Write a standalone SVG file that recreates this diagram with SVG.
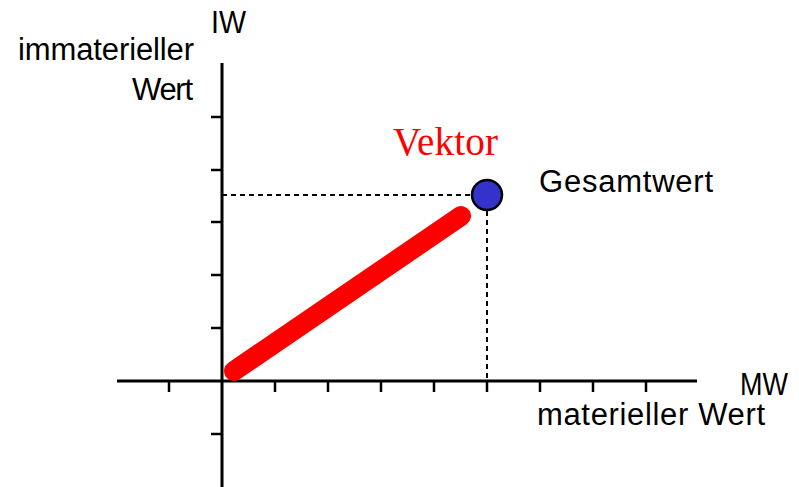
<svg xmlns="http://www.w3.org/2000/svg" width="799" height="487" viewBox="0 0 799 487">
<style>
.lbl{font-family:"Liberation Sans",Arial,sans-serif;font-size:31px;fill:#000}
.axis{stroke:#000;stroke-width:3;fill:none}
.tick{stroke:#000;stroke-width:2.5;fill:none}
.dash{stroke:#000;stroke-width:2;stroke-dasharray:5 4;fill:none}
</style>
<rect width="799" height="487" fill="#fff"/>
<g id="axes">
<line class="axis" x1="222" y1="63" x2="222" y2="487"/>
<line class="axis" x1="117" y1="381" x2="697" y2="381"/>
<path class="tick" d="M169 381V392M275 381V392M328 381V392M381 381V392M434 381V392M487 381V392M540 381V392M593 381V392M646 381V392"/>
<path class="tick" d="M211 117H222M211 170H222M211 222H222M211 275H222M211 328H222M211 434H222"/>
</g>
<g id="connectors">
<line class="dash" x1="222" y1="195" x2="471" y2="195"/>
<line class="dash" x1="487" y1="211" x2="487" y2="381"/>
<line x1="234" y1="371" x2="461" y2="216" stroke="#ff0000" stroke-width="20" stroke-linecap="round"/>
</g>
<g id="gesamtwert">
<circle cx="487" cy="195" r="15" fill="#3333cc" stroke="#000" stroke-width="2.5"/>
</g>
<g id="labels">
<text class="lbl" x="211" y="33" textLength="35" lengthAdjust="spacingAndGlyphs">IW</text>
<text class="lbl" x="18" y="60" textLength="176">immaterieller</text>
<text class="lbl" x="132" y="100" textLength="61">Wert</text>
<text x="393" y="155" font-family="Liberation Serif,'Times New Roman',serif" font-size="39" fill="#ff0000" textLength="105">Vektor</text>
<text class="lbl" x="539" y="192" textLength="174">Gesamtwert</text>
<text class="lbl" x="740" y="395" textLength="48" lengthAdjust="spacingAndGlyphs">MW</text>
<text class="lbl" x="537" y="425" textLength="228">materieller Wert</text>
</g>
</svg>
